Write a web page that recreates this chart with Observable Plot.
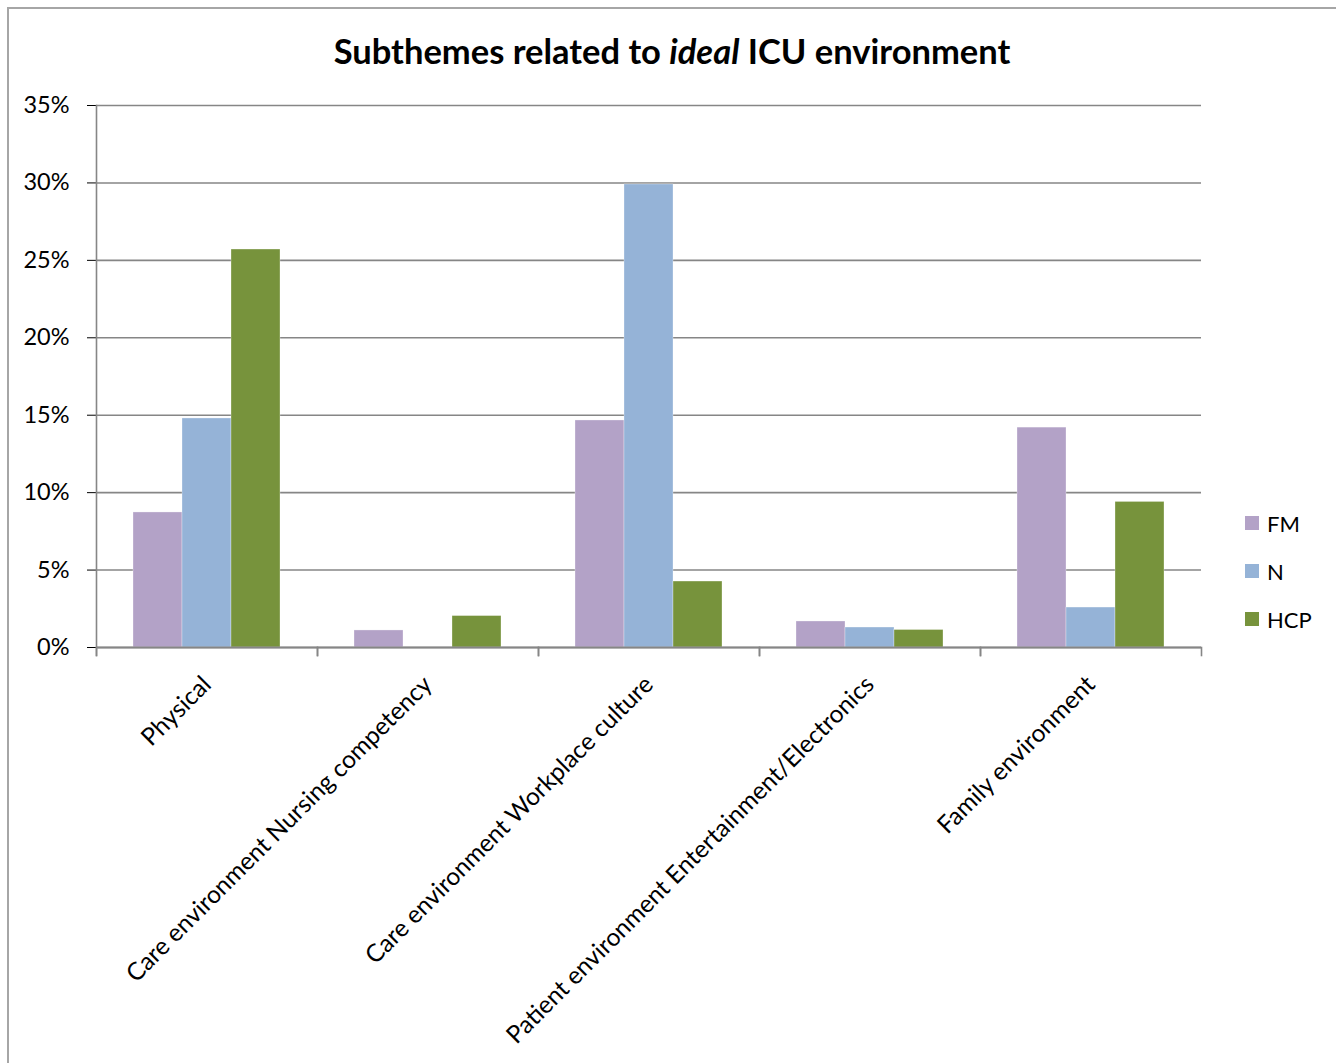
<!DOCTYPE html>
<html>
<head>
<meta charset="utf-8">
<script src="https://cdn.jsdelivr.net/npm/d3@7"></script>
<script src="https://cdn.jsdelivr.net/npm/@observablehq/plot@0.6"></script>
<style>
  body { margin: 0; background: #fff; font-family: Lato, "Open Sans", sans-serif; }
  #wrap { position: relative; width: 1336px; height: 1063px; overflow: hidden; }
  #border { position: absolute; left: 7px; top: 7px; width: 1340px; height: 1070px;
            border-left: 2px solid #a6a6a6; border-top: 2px solid #a6a6a6; }
  #title { position: absolute; left: 0; width: 1344px; top: 30px; text-align: center;
           font-weight: bold; font-size: 34.5px; color: #000; }
  #legend { position: absolute; left: 1245px; top: 499px; font-size: 22px; color: #000; }
  .li { height: 48px; display: flex; align-items: center; }
  .sw { width: 14px; height: 14px; margin-right: 8px; }
  #chart { position: absolute; left: 0; top: 0; }
</style>
</head>
<body>
<div id="wrap">
  <div id="border"></div>
  <div id="chart"></div>
  <div id="title">Subthemes related to <i>ideal</i> ICU environment</div>
  <div id="legend"></div>
</div>
<script>
const categories = [
  "Physical",
  "Care environment Nursing competency",
  "Care environment Workplace culture",
  "Patient environment Entertainment/Electronics",
  "Family environment"
];
const series = ["FM", "N", "HCP"];
const colors = ["#B3A2C7", "#95B3D7", "#77933C"];
const FM  = [0.0872, 0.0110, 0.1466, 0.0168, 0.1420];
const N   = [0.1479, 0.0000, 0.2990, 0.0129, 0.0258];
const HCP = [0.2570, 0.0203, 0.0426, 0.0113, 0.0940];
const yTicks = [0, 0.05, 0.10, 0.15, 0.20, 0.25, 0.30, 0.35];

const values = {FM, N, HCP};
const data = [];
categories.forEach((c, i) => series.forEach(s => data.push({category: c, series: s, value: values[s][i]})));

const W = 1336, H = 1063;
const mTop = 105, mBottom = 416, mLeft = 95, mRight = 134;
const plotH = H - mTop - mBottom;
const grid = "#868686";

const chart = Plot.plot({
  width: W, height: H,
  marginTop: mTop, marginBottom: mBottom, marginLeft: mLeft, marginRight: mRight,
  style: {fontFamily: "Lato, 'Open Sans', sans-serif", fontSize: "23.5px", color: "#000", background: "transparent"},
  fx: {domain: categories, padding: 0, label: null, tickRotate: -45, tickSize: 0, tickPadding: 33},
  x: {domain: series, paddingInner: 0, paddingOuter: 0.75, axis: null},
  y: {domain: [0, 0.35], ticks: yTicks, tickFormat: d3.format(".0%"), tickSize: 9, tickPadding: 18, label: null},
  color: {domain: series, range: colors},
  marks: [
    Plot.ruleY(yTicks, {stroke: grid, strokeWidth: 1.6}),
    Plot.frame({anchor: "left", stroke: grid, strokeWidth: 1.6, insetTop: plotH, insetBottom: -8}),
    Plot.frame({anchor: "right", stroke: grid, strokeWidth: 1.6, insetTop: plotH, insetBottom: -8}),
    Plot.frame({anchor: "left", fx: categories[0], stroke: grid, strokeWidth: 1.6, insetBottom: -8}),
    Plot.barY(data, {fx: "category", x: "series", y: "value", fill: "series", stroke: "#fff", strokeOpacity: 0.5, strokeWidth: 0.6}),
    Plot.ruleY([0], {stroke: grid, strokeWidth: 2})
  ]
});
document.getElementById("chart").appendChild(chart);
chart.querySelectorAll('g[aria-label="fx-axis tick label"] text').forEach(t => t.style.fontSize = "24.5px");

const legend = document.getElementById("legend");
series.forEach((s, i) => {
  const row = document.createElement("div");
  row.className = "li";
  row.innerHTML = `<span class="sw" style="background:${colors[i]}"></span><span>${s}</span>`;
  legend.appendChild(row);
});
</script>
</body>
</html>
